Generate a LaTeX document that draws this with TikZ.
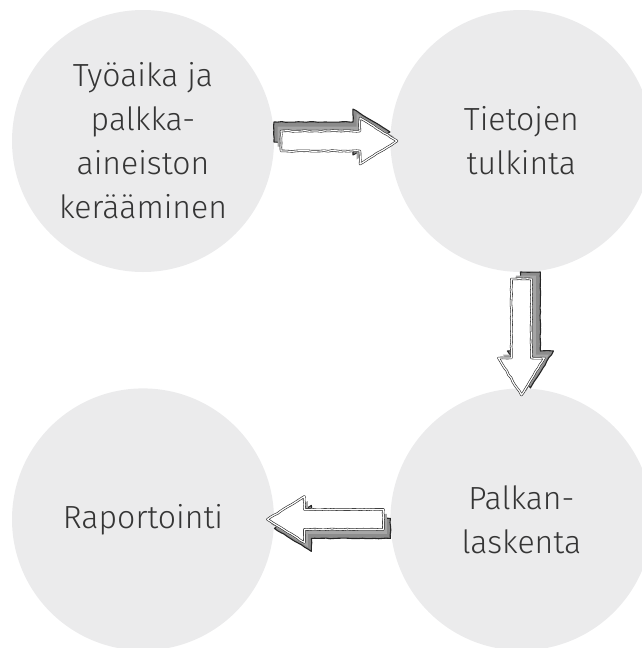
\documentclass[tikz,border=0pt]{standalone}
\usepackage{fontspec}
\setmainfont{Fira Sans Light}
\usepackage{xcolor}
\usetikzlibrary{positioning,calc,decorations.pathmorphing}
\definecolor{disc}{HTML}{EBEBEC}
\definecolor{ink}{HTML}{353535}
% block arrow outline between two nodes, #1 shift back, #2 shift sideways
\newcommand\blockshape[2]{%
  ($(\tikztostart)!{138pt+#1}!(\tikztotarget)!{10pt+#2}!90:(\tikztotarget)$) --
  ($(\tikztostart)!{217pt+#1}!(\tikztotarget)!{10pt+#2}!90:(\tikztotarget)$) --
  ($(\tikztostart)!{217pt+#1}!(\tikztotarget)!{23pt+#2}!90:(\tikztotarget)$) --
  ($(\tikztostart)!{254pt+#1}!(\tikztotarget)!{0pt+#2}!90:(\tikztotarget)$) --
  ($(\tikztostart)!{217pt+#1}!(\tikztotarget)!{-23pt+#2}!90:(\tikztotarget)$) --
  ($(\tikztostart)!{217pt+#1}!(\tikztotarget)!{-10pt+#2}!90:(\tikztotarget)$) --
  ($(\tikztostart)!{138pt+#1}!(\tikztotarget)!{-10pt+#2}!90:(\tikztotarget)$) -- cycle}

\begin{document}
\begin{tikzpicture}[x=1pt,y=-1pt,
  node distance=116pt,
  stage/.style={circle,fill=disc,minimum size=262pt,inner sep=0pt,align=center,
                text=ink,font=\fontsize{32}{44}\selectfont},
  sketch/.style={decorate,decoration={random steps,segment length=4pt,amplitude=0.4pt},
                 line join=round},
  arrowback/.style={to path={\blockshape{-7pt}{9pt}},sketch,fill=black!45,
                    draw=black!85,line width=1.1pt},
  arrowmid/.style={to path={\blockshape{-3.5pt}{4.5pt}},fill=black!35},
  arrowfront/.style={to path={\blockshape{0pt}{0pt}},sketch,fill=white,draw=black!85,
                     line width=0.6pt,double=white,double distance=1.2pt}]
  \useasboundingbox (0,0) rectangle (642,648);
  \node[stage] (work) at (143,141) {Työaika ja\\palkka-\\aineiston\\kerääminen};
  \node[stage,right=of work] (interp) {Tietojen\\tulkinta};
  \node[stage,below=of interp] (payroll) {Palkan-\\laskenta};
  \node[stage,left=of payroll] (report) {Raportointi};
  \foreach \a/\b in {work/interp,interp/payroll,payroll/report}{
    \draw[arrowback] (\a) to (\b);
    \path[arrowmid] (\a) to (\b);
    \draw[arrowfront] (\a) to (\b);
  }
\end{tikzpicture}
\end{document}
